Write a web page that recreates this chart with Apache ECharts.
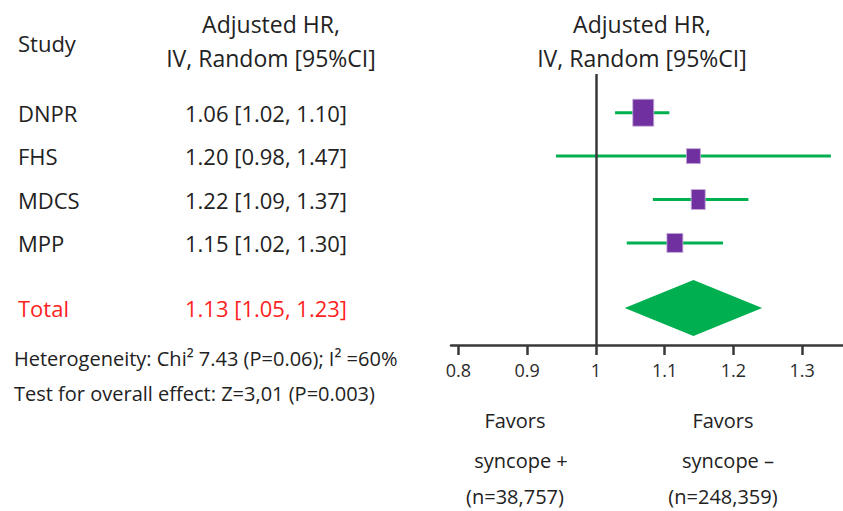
<!DOCTYPE html>
<html><head><meta charset="utf-8">
<script src="https://cdn.jsdelivr.net/npm/echarts@6/dist/echarts.min.js"></script>
<style>html,body{margin:0;padding:0;background:#fff}#c{width:843px;height:511px}</style>
</head><body><div id="c"></div>
<script>
// ---- data ----
const studies = ['DNPR', 'FHS', 'MDCS', 'MPP'];
const hrLabels = ['1.06 [1.02, 1.10]', '1.20 [0.98, 1.47]', '1.22 [1.09, 1.37]', '1.15 [1.02, 1.30]'];
const estimates = [1.069, 1.142, 1.149, 1.115];   // as drawn
const lowerCI = [1.028, 0.942, 1.083, 1.045];
const upperCI = [1.107, 1.342, 1.222, 1.185];
const totalLabel = 'Total';
const totalHRLabel = '1.13 [1.05, 1.23]';
const totalEst = [1.142];
const totalLower = [1.042];
const totalUpper = [1.242];
const xTicks = [0.8, 0.9, 1, 1.1, 1.2, 1.3];
const headerLines = ['Adjusted HR,', 'IV, Random [95%CI]'];
const footnotes = ['Heterogeneity: Chi\u00B2 7.43 (P=0.06); I\u00B2 =60%', 'Test for overall effect: Z=3,01 (P=0.003)'];
const favorsLeft = ['Favors', 'syncope +', '(n=38,757)'];
const favorsRight = ['Favors', 'syncope \u2013', '(n=248,359)'];

// ---- style / layout ----
const boxSize = [[21, 27], [14, 15], [14, 20], [16, 19]];
const FONT = '"Open Sans", Lato, sans-serif';
const TXT = '#222';
const GREEN = '#00b050';
const PURPLE = '#7030a0';
const RED = '#ff1f1f';
const AX = '#383838';
const TOTAL_ROW = 5.5;

const chart = echarts.init(document.getElementById('c'), null, { renderer: 'svg' });

const studyData = studies.map((s, i) => [estimates[i], lowerCI[i], upperCI[i], i + 1, boxSize[i][0], boxSize[i][1]]);
const totalData = totalEst.map((e, i) => [e, totalLower[i], totalUpper[i], TOTAL_ROW]);

const option = {
  animation: false,
  backgroundColor: '#fff',
  grid: { left: 451, right: 0, top: 74, bottom: 166, containLabel: false, outerBoundsMode: 'none' },
  xAxis: {
    type: 'value', min: 0.7893, max: 1.3596,
    axisLine: { onZero: false, lineStyle: { color: AX, width: 2.5 } },
    axisTick: { customValues: xTicks, length: 10, lineStyle: { color: AX, width: 2.5 } },
    axisLabel: { customValues: xTicks, margin: 16, color: '#2a2a2a', fontSize: 18, fontFamily: FONT,
      formatter: v => String(+(+v).toFixed(1)) },
    splitLine: { show: false }
  },
  yAxis: { type: 'value', inverse: true, min: 0.108, max: 6.352, show: false },
  series: [
    {
      type: 'custom', name: 'studies', data: studyData, encode: { x: [0, 1, 2], y: 3 },
      renderItem: (params, api) => {
        const y = api.value(3);
        const pl = api.coord([api.value(1), y]);
        const ph = api.coord([api.value(2), y]);
        const pe = api.coord([api.value(0), y]);
        const w = api.value(4), h = api.value(5);
        return { type: 'group', children: [
          { type: 'line', shape: { x1: pl[0], y1: pl[1], x2: ph[0], y2: ph[1] }, style: { stroke: GREEN, lineWidth: 3 } },
          { type: 'rect', shape: { x: pe[0] - w / 2, y: pe[1] - h / 2, width: w, height: h }, style: { fill: PURPLE, stroke: '#c6afdb', lineWidth: 0.8 } }
        ] };
      },
      markLine: {
        silent: true, symbol: 'none', label: { show: false },
        lineStyle: { color: AX, width: 2.5, type: 'solid' },
        data: [{ xAxis: 1 }]
      }
    },
    {
      type: 'custom', name: 'total', data: totalData, encode: { x: [0, 1, 2], y: 3 },
      renderItem: (params, api) => {
        const y = api.value(3);
        const pl = api.coord([api.value(1), y]);
        const ph = api.coord([api.value(2), y]);
        const pe = api.coord([api.value(0), y]);
        const hh = 28;
        return { type: 'polygon', shape: { points: [[pl[0], pl[1]], [pe[0], pe[1] - hh], [ph[0], ph[1]], [pe[0], pe[1] + hh]] }, style: { fill: GREEN } };
      }
    }
  ]
};
chart.setOption(option);

function rowY(idx) { return chart.convertToPixel({ gridIndex: 0 }, [1, idx])[1]; }
function txt(text, x, y, size, align, color) {
  return { type: 'text', silent: true, style: { text, x, y, fill: color || TXT, font: size + 'px ' + FONT, textAlign: align || 'left', textVerticalAlign: 'middle' } };
}
const ROWF = 22, HEADF = 23, NOTEF = 20, FAVF = 20;
const g = [];
g.push(txt('Study', 18, 43, ROWF));
g.push(txt(headerLines[0], 271, 24, HEADF, 'center'));
g.push(txt(headerLines[1], 271, 58, HEADF, 'center'));
g.push(txt(headerLines[0], 642, 24, HEADF, 'center'));
g.push(txt(headerLines[1], 642, 58, HEADF, 'center'));
studies.forEach((s, i) => {
  const y = rowY(i + 1);
  g.push(txt(s, 18, y, ROWF));
  g.push(txt(hrLabels[i], 185, y, ROWF));
});
const ty = rowY(TOTAL_ROW);
g.push(txt(totalLabel, 18, ty, ROWF, 'left', RED));
g.push(txt(totalHRLabel, 185, ty, ROWF, 'left', RED));
g.push(txt(footnotes[0], 14, 358, NOTEF));
g.push(txt(footnotes[1], 14, 393, NOTEF));
const fy = [420, 460, 496];
favorsLeft.forEach((t, i) => g.push(txt(t, [515, 521, 515][i], fy[i], FAVF, 'center')));
favorsRight.forEach((t, i) => g.push(txt(t, [723, 728, 723][i], fy[i], FAVF, 'center')));
chart.setOption({ graphic: { elements: g } });
</script>
</body></html>
